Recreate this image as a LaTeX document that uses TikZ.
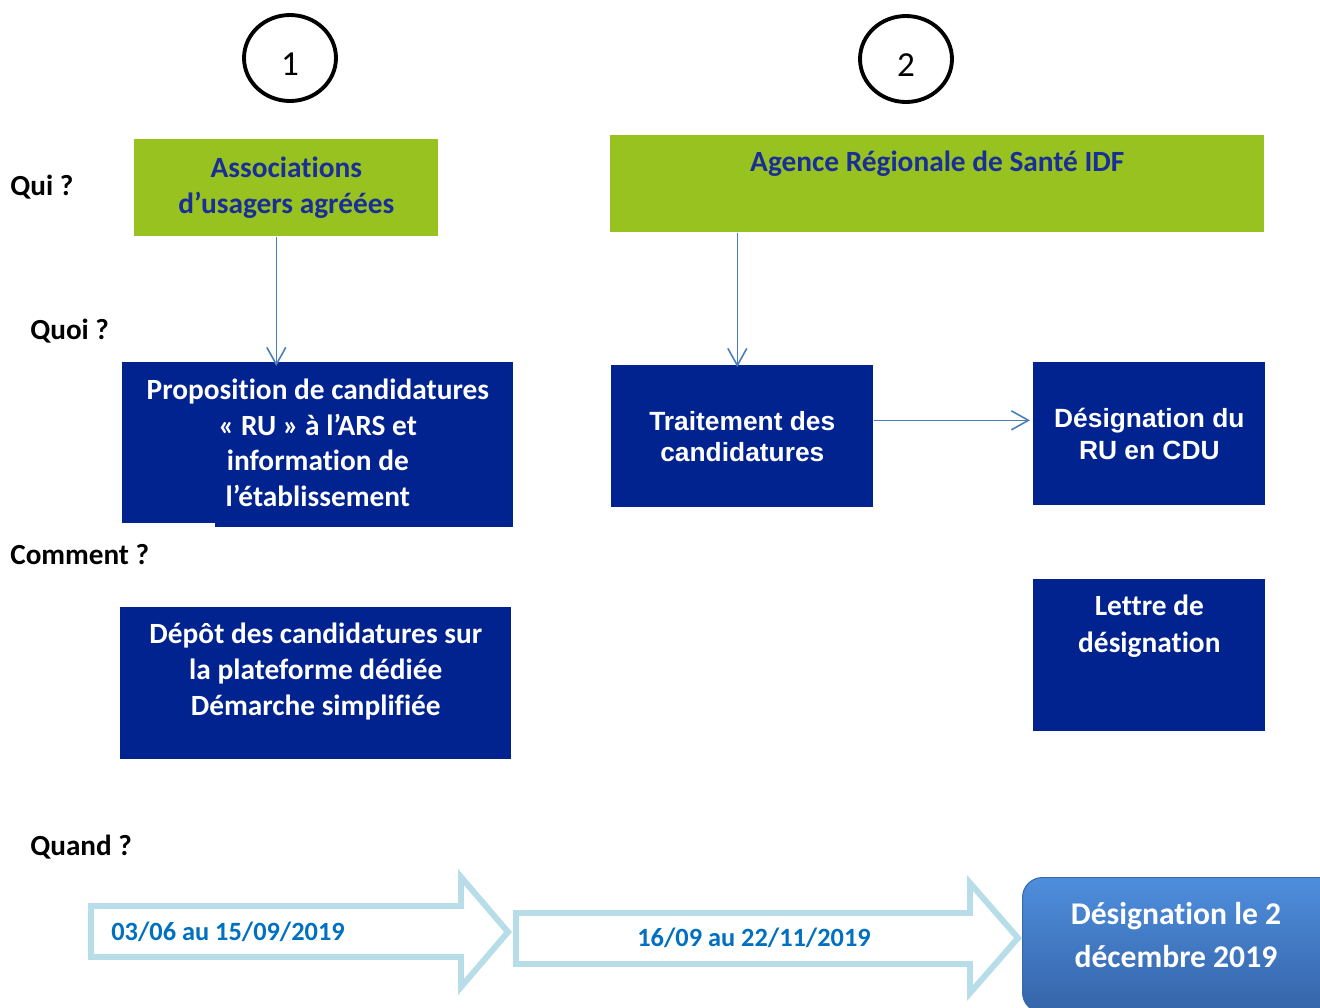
\documentclass[tikz,border=0pt]{standalone}
\usepackage{fontspec}
\setmainfont{Carlito}[Ligatures=NoCommon]
\newfontfamily\arialfont{Liberation Sans}
\usetikzlibrary{arrows.meta,shapes.geometric}
\definecolor{vert}{HTML}{97C21F}
\definecolor{marine}{HTML}{00238F}
\definecolor{titre}{HTML}{1A2E98}
\definecolor{fleche}{HTML}{4A7EBB}
\definecolor{ciel}{HTML}{B7DDE8}
\definecolor{bleudate}{HTML}{0070C0}
\definecolor{hautfin}{HTML}{4E8EDD}
\definecolor{basfin}{HTML}{3564A8}
\definecolor{bordfin}{HTML}{3A68AC}
\begin{document}
\begin{tikzpicture}[x=0.02cm,y=-0.02cm,>={Straight Barb[length=3.4mm,width=3.8mm]},
  question/.style={anchor=west,inner sep=0pt,font=\bfseries\fontsize{16.6}{19}\selectfont},
  numero/.style={draw,ellipse,line width=2.2pt,minimum width=1.84cm,minimum height=1.72cm,text height=19.4pt,text depth=0pt,font=\fontsize{20}{24}\selectfont},
  qui/.style={fill=vert,anchor=north west,inner sep=0pt,text=titre,align=center,font=\bfseries\fontsize{16.7}{20.4}\selectfont},
  quoi/.style={fill=marine,anchor=north west,inner sep=0pt,text=white,align=center,font=\bfseries\fontsize{16.7}{20.4}\selectfont},
  texte/.style={text=white,align=center,inner sep=0pt,font=\bfseries\fontsize{16.7}{20.4}\selectfont},
  lien/.style={->,draw=fleche,line width=0.9pt},
  etape/.style={draw=ciel,fill=white,line width=3.4pt,line join=miter},
  periode/.style={text=bleudate,inner sep=0pt,font=\bfseries\fontsize{15}{18}\selectfont}]
\useasboundingbox (0,0) rectangle (1320,1008);

% questions
\node[question] (qui) at (10,187) {Qui ?};
\node[question] (quoi) at (30,331) {Quoi ?};
\node[question] (comment) at (10,555) {Comment ?};
\node[question] (quand) at (30,847) {Quand ?};

% etapes 1 et 2
\node[numero] (un) at (290,58) {1};
\node[numero] (deux) at (906,59) {2};

% qui
\node[qui,minimum width=6.08cm,minimum height=1.94cm] (assoc) at (134,139) {Associations\\d’usagers agréées};
\node[qui,minimum width=13.08cm,minimum height=1.94cm] (ars) at (610,135) {};
\node[text=titre,inner sep=0pt,font=\bfseries\fontsize{16.7}{20.4}\selectfont] (arstxt) at ([yshift=-0.58cm]ars.north) {Agence Régionale de Santé IDF};

% quoi
\node[quoi,minimum width=7.82cm,minimum height=3.22cm] (prop) at (122,362) {Proposition de candidatures\\«~RU~» à l’ARS et\\information de\\l’établissement};
\fill[marine] (215,522) rectangle (513,527);
\node[quoi,minimum width=5.24cm,minimum height=2.84cm,font=\arialfont\bfseries\fontsize{15}{17.5}\selectfont] (trait) at (611,365) {Traitement des\\candidatures};
\node[quoi,minimum width=4.64cm,minimum height=2.86cm,font=\arialfont\bfseries\fontsize{15}{18.5}\selectfont] (desig) at (1033,362) {Désignation du\\RU en CDU};

% comment
\node[quoi,minimum width=7.82cm,minimum height=3.04cm] (depot) at (120,607) {};
\node[texte] (depottxt) at ([yshift=0.24cm]depot.center) {Dépôt des candidatures sur\\la plateforme dédiée\\Démarche simplifiée};
\node[quoi,minimum width=4.64cm,minimum height=3.04cm] (lettre) at (1033,579) {};
\node[texte,anchor=north,font=\bfseries\fontsize{16.7}{21}\selectfont] (lettretxt) at ([yshift=-0.32cm]lettre.north) {Lettre de\\désignation};

% liens
\draw[lien] ([xshift=-0.2cm]assoc.south) -- ([xshift=-0.2cm,yshift=-0.08cm]assoc.south |- prop.north);
\draw[lien] ([xshift=-4cm]ars.south) -- ([xshift=-4cm,yshift=-0.04cm]ars.south |- trait.north);
\draw[lien] ([yshift=0.32cm]trait.east) -- ([yshift=0.32cm,xshift=-0.06cm]trait.east -| desig.west);

% quand
\draw[etape] (91,906) -- (461,906) -- (461,877) -- (508,932) -- (461,987) -- (461,957) -- (91,957) -- cycle;
\draw[etape] (516,913) -- (970,913) -- (970,883) -- (1018,938) -- (970,993) -- (970,964) -- (516,964) -- cycle;
\node[periode,anchor=west] (p1) at (111,932) {03/06 au 15/09/2019};
\node[periode] (p2) at (754,938) {16/09 au 22/11/2019};
\node[anchor=north west,rounded corners=0.4cm,minimum width=6.6cm,minimum height=2.7cm,top color=hautfin,bottom color=basfin,draw=bordfin,line width=0.6pt] (fin) at (1022,877) {};
\node[text=white,align=center,inner sep=0pt,font=\bfseries\fontsize{18}{25}\selectfont] (fintxt) at (1176,935) {Désignation le 2\\décembre 2019};
\end{tikzpicture}
\end{document}
